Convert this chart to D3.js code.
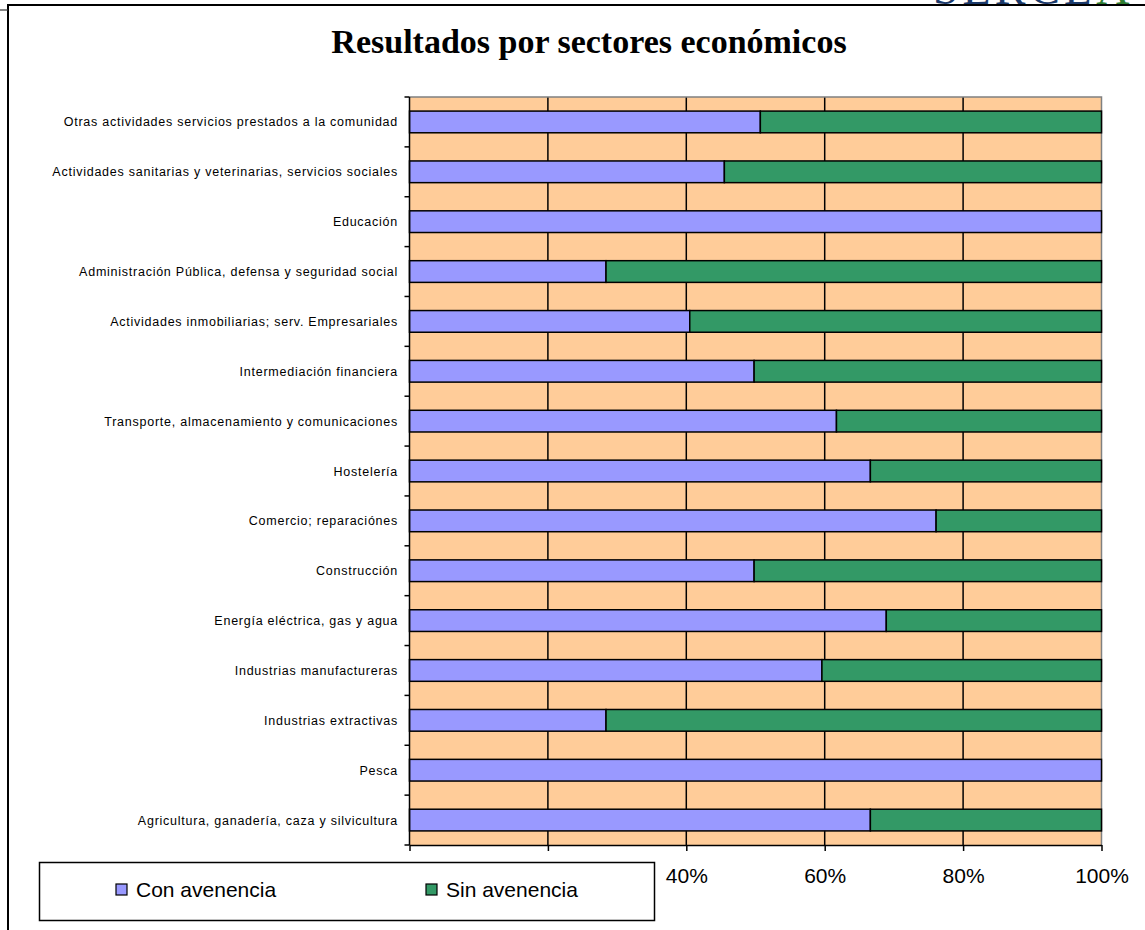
<!DOCTYPE html>
<html>
<head>
<meta charset="utf-8">
<style>
  body { margin: 0; background: #fff; }
  svg { display: block; }
  .cat-label { font-family: "Liberation Sans", Arial, sans-serif; font-size: 12.5px; letter-spacing: 0.75px; fill: #000; }
  .x-axis text { font-family: "Liberation Sans", Arial, sans-serif; font-size: 21px; fill: #000; }
  .legend text { font-family: "Liberation Sans", Arial, sans-serif; font-size: 21px; fill: #000; }
</style>
</head>
<body>
<svg width="1145" height="930"></svg>
<script src="https://cdnjs.cloudflare.com/ajax/libs/d3/7.8.5/d3.min.js"></script>
<script>
// sectors, top to bottom as shown
var categories = [
  "Otras actividades servicios prestados a la comunidad",
  "Actividades sanitarias y veterinarias, servicios sociales",
  "Educación",
  "Administración Pública, defensa y seguridad social",
  "Actividades inmobiliarias; serv. Empresariales",
  "Intermediación financiera",
  "Transporte, almacenamiento y comunicaciones",
  "Hostelería",
  "Comercio; reparaciónes",
  "Construcción",
  "Energía eléctrica, gas y agua",
  "Industrias manufactureras",
  "Industrias extractivas",
  "Pesca",
  "Agricultura, ganadería, caza y silvicultura"
];
var conAvenencia = [50.7, 45.5, 100, 28.4, 40.5, 49.8, 61.7, 66.6, 76.1, 49.8, 68.9, 59.6, 28.4, 100, 66.6];
var sinAvenencia = [49.3, 54.5, 0, 71.6, 59.5, 50.2, 38.3, 33.4, 23.9, 50.2, 31.1, 40.4, 71.6, 0, 33.4];
var seriesNames = ["Con avenencia", "Sin avenencia"];
var seriesColors = ["#9999ff", "#339966"];
var xTicks = [0, 20, 40, 60, 80, 100];

var svg = d3.select("svg");

var rows = categories.map(function(c, i) {
  return { cat: c, con: conAvenencia[i], sin: sinAvenencia[i] };
});

var x = d3.scaleLinear().domain([0, 100]).range([409.5, 1101.5]);
var y = d3.scaleBand().domain(categories).range([97, 845])
    .paddingInner(0.565).paddingOuter(0.2825);

// legend box, the axis labels behind it are not shown
var legendBox = { x: 39.5, y: 862.5, w: 615, h: 58 };

// outer frame
svg.append("path").attr("d", "M8,930V5H1145").attr("fill", "none")
    .attr("stroke", "#000").attr("stroke-width", 2);
svg.append("line").attr("x1", 0).attr("x2", 8).attr("y1", 10).attr("y2", 10)
    .attr("stroke", "#333").attr("stroke-width", 1.2);

// logo fragment peeking above the frame
var logo = svg.append("text")
    .attr("x", 933).attr("y", 4)
    .attr("font-family", "Liberation Serif, serif")
    .attr("font-size", 46).attr("letter-spacing", 4)
    .attr("fill", "#1b3a6b");
logo.append("tspan").text("SERCL");
logo.append("tspan").attr("fill", "#2e7d32").text("A");

// title
svg.append("text")
    .attr("x", 589).attr("y", 53)
    .attr("text-anchor", "middle")
    .attr("font-family", "Liberation Serif, 'Times New Roman', serif")
    .attr("font-weight", "bold").attr("font-size", 34)
    .text("Resultados por sectores económicos");

// plot area
svg.append("rect")
    .attr("x", x(0)).attr("y", 97)
    .attr("width", x(100) - x(0)).attr("height", 845 - 97)
    .attr("fill", "#ffcc99");

svg.append("g").selectAll("line")
  .data(xTicks.slice(1, 5))
  .join("line")
    .attr("x1", function(d) { return x(d); }).attr("x2", function(d) { return x(d); })
    .attr("y1", 97).attr("y2", 845)
    .attr("stroke", "#000").attr("stroke-width", 1.5);

svg.append("path")
    .attr("d", "M" + x(0) + ",97H" + x(100) + "V845")
    .attr("fill", "none").attr("stroke", "#808080").attr("stroke-width", 1.5);

// stacked bars
var stack = d3.stack().keys(["con", "sin"])(rows);
svg.append("g").selectAll("g")
  .data(stack)
  .join("g")
    .attr("fill", function(d, i) { return seriesColors[i]; })
  .selectAll("rect")
  .data(function(d) { return d.filter(function(s) { return s[1] - s[0] > 0; }); })
  .join("rect")
    .attr("x", function(d) { return x(d[0]); })
    .attr("y", function(d) { return y(d.data.cat); })
    .attr("width", function(d) { return x(d[1]) - x(d[0]); })
    .attr("height", y.bandwidth())
    .attr("stroke", "#000").attr("stroke-width", 1.5);

// y axis with ticks at band boundaries
var bounds = d3.range(categories.length + 1).map(function(i) { return y.range()[0] + i * y.step(); });
var yAxis = svg.append("g");
yAxis.append("line").attr("x1", x(0)).attr("x2", x(0)).attr("y1", 97).attr("y2", 845)
    .attr("stroke", "#000").attr("stroke-width", 1.5);
yAxis.selectAll(".tk").data(bounds).join("line")
    .attr("x1", x(0) - 5).attr("x2", x(0))
    .attr("y1", function(d) { return d; }).attr("y2", function(d) { return d; })
    .attr("stroke", "#000").attr("stroke-width", 1.5);

svg.append("g").selectAll("text")
  .data(categories)
  .join("text")
    .attr("class", "cat-label")
    .attr("x", 398)
    .attr("y", function(d) { return y(d) + y.bandwidth() / 2; })
    .attr("dy", "0.36em")
    .attr("text-anchor", "end")
    .text(function(d) { return d; });

// x axis
var xAxis = svg.append("g").attr("class", "x-axis")
    .attr("transform", "translate(0,845)")
    .call(d3.axisBottom(x).tickValues(xTicks).tickSize(6).tickSizeOuter(0).tickPadding(17)
      .tickFormat(function(d) { return d + "%"; }));
xAxis.select(".domain").attr("stroke", "#000").attr("stroke-width", 1.5);
xAxis.selectAll(".tick line").attr("stroke", "#000").attr("stroke-width", 1.5);
xAxis.selectAll("text").attr("font-family", null).attr("font-size", null);
// labels that sit under the legend box are hidden in the original
xAxis.selectAll(".tick").filter(function(d) { return x(d) < legendBox.x + legendBox.w; })
    .select("text").remove();

// legend
var legend = svg.append("g").attr("class", "legend");
legend.append("rect")
    .attr("x", legendBox.x).attr("y", legendBox.y).attr("width", legendBox.w).attr("height", legendBox.h)
    .attr("fill", "#fff").attr("stroke", "#000").attr("stroke-width", 1.5);
var legendX = [116, 426];
var item = legend.selectAll("g.item").data(seriesNames).join("g").attr("class", "item")
    .attr("transform", function(d, i) { return "translate(" + legendX[i] + ",884)"; });
item.append("rect").attr("width", 11).attr("height", 11)
    .attr("fill", function(d, i) { return seriesColors[i]; })
    .attr("stroke", "#000").attr("stroke-width", 1.2);
item.append("text").attr("x", 20).attr("y", 13).text(function(d) { return d; });
</script>
</body>
</html>
